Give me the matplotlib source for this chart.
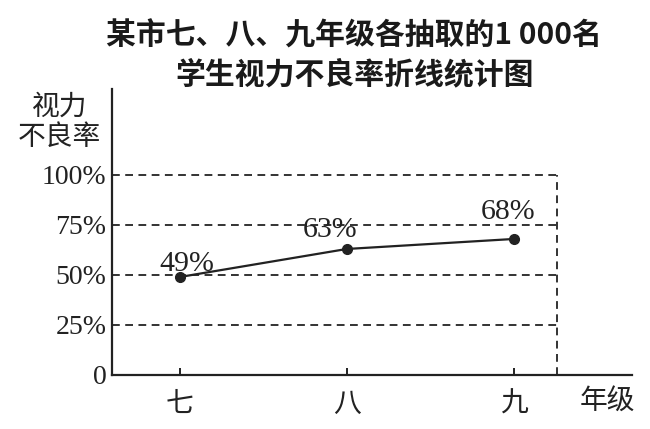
import matplotlib.pyplot as plt

plt.rcParams['font.family'] = ['Noto Sans CJK SC', 'DejaVu Sans']

grades = ['七', '八', '九']
rates = [49, 63, 68]
rate_labels = ['49%', '63%', '68%']
y_ticks = [0, 25, 50, 75, 100]
y_tick_labels = ['0', '25%', '50%', '75%', '100%']

fig = plt.figure(figsize=(6.5, 4.29), dpi=100)
ax = fig.add_axes([0.1723, 0.1259, 0.80, 0.6667])

x = [1, 2, 3]
col = '#222222'

# dashed guide lines
for v in y_ticks[1:]:
    ax.plot([0.593, 3.26], [v, v], linestyle=(0, (4, 2.8)), color='#333333', lw=1.4)
ax.plot([3.26, 3.26], [0, 100], linestyle=(0, (4, 2.8)), color='#333333', lw=1.4)

ax.plot(x, rates, color=col, lw=1.6, marker='o', markersize=7)
offsets = [(7, 0.5), (-17, 3.5), (-5, 7.5)]
for xi, yi, lab, (dx, dy) in zip(x, rates, rate_labels, offsets):
    ax.text(xi + dx / 167, yi + dy + 6, lab, ha='center', va='center',
            fontsize=21.5, family='Liberation Serif', color=col)

ax.set_xlim(0.593, 3.71)
ax.set_ylim(0, 143)
ax.spines['top'].set_visible(False)
ax.spines['right'].set_visible(False)
for s in ['left', 'bottom']:
    ax.spines[s].set_linewidth(1.6)
    ax.spines[s].set_color(col)

ax.set_yticks(y_ticks)
ax.set_yticklabels(y_tick_labels, family='Liberation Serif', fontsize=20, color=col)
ax.tick_params(axis='y', length=0, pad=4)
ax.set_xticks(x)
ax.set_xticklabels(grades, fontsize=20, color=col)
ax.tick_params(axis='x', direction='in', length=5, width=1.4, pad=10, color=col)

fig.text(0.934, 0.063, '年级', fontsize=20, ha='center', va='center', color=col)
fig.text(0.092, 0.752, '视力', fontsize=20, ha='center', va='center', color=col)
fig.text(0.092, 0.680, '不良率', fontsize=20, ha='center', va='center', color=col)

fig.text(0.545, 0.916, '某市七、八、九年级各抽取的1 000名', fontsize=21.5, fontweight='bold',
         ha='center', va='center', color='#1a1a1a')
fig.text(0.545, 0.826, '学生视力不良率折线统计图', fontsize=21.5, fontweight='bold',
         ha='center', va='center', color='#1a1a1a')

fig.savefig('out.png', dpi=100)
